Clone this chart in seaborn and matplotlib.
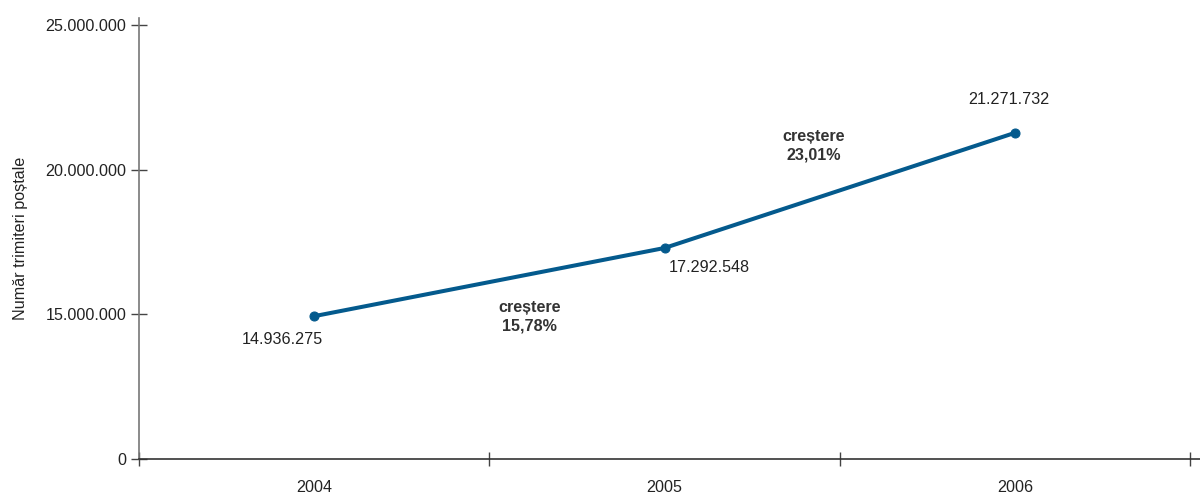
import numpy as np
import pandas as pd
import seaborn as sns
import matplotlib.pyplot as plt
from matplotlib.ticker import FixedLocator

# data
years = ["2004", "2005", "2006"]
trimiteri = [14936275, 17292548, 21271732]
value_labels = ["14.936.275", "17.292.548", "21.271.732"]
growth_labels = ["creștere\n15,78%", "creștere\n23,01%"]
ytick_values = [10000000, 15000000, 20000000, 25000000]
ytick_labels = ["0", "15.000.000", "20.000.000", "25.000.000"]

line_color = "#045a8d"
fs = 11.6

sns.set_theme(style="white")
plt.rcParams['font.family'] = ['Liberation Sans', 'DejaVu Sans']

df = pd.DataFrame({"pos": np.arange(len(years)), "val": trimiteri})

fig = plt.figure(figsize=(12, 4.96), dpi=100)
ax = fig.add_axes([139 / 1200, 37 / 496, 1061 / 1200, 441 / 496])

sns.lineplot(data=df, x="pos", y="val", ax=ax, color=line_color,
             linewidth=2.9, marker="o", markersize=6.5,
             markeredgecolor=line_color, markerfacecolor=line_color)

ax.set_xlim(-0.5, 2.5 + 10 / 351)
ax.set_ylim(10000000, 10000000 + 441 / 144.67 * 5000000)

# x axis: labels at category centres, crossing ticks at boundaries
ax.set_xticks(range(len(years)))
ax.set_xticklabels(years, fontsize=fs, color="#222222")
ax.xaxis.set_minor_locator(FixedLocator([-0.5, 0.5, 1.5, 2.5]))
ax.tick_params(axis="x", which="major", length=0, pad=15)
ax.tick_params(axis="x", which="minor", direction="inout", length=10,
               width=1, color="#444444", bottom=True)

ax.set_yticks(ytick_values)
ax.set_yticklabels(ytick_labels, fontsize=fs, color="#222222")
ax.tick_params(axis="y", direction="inout", length=12, width=1,
               color="#444444", left=True, pad=3)

for side in ["top", "right"]:
    ax.spines[side].set_visible(False)
ax.spines["left"].set_color("#777777")
ax.spines["left"].set_linewidth(1.2)
ax.spines["bottom"].set_color("#333333")
ax.spines["bottom"].set_linewidth(1.2)

ax.set_xlabel("")
ax.set_ylabel("Număr trimiteri poștale", fontsize=fs, color="#222222")
ax.yaxis.set_label_coords(-0.105, 0.5)

# value labels
offsets = [(-23, -17), (32, -14), (-4, 24)]
for i, (lab, off) in enumerate(zip(value_labels, offsets)):
    ax.annotate(lab, (i, trimiteri[i]), xytext=off, textcoords="offset points",
                ha="center", va="center", fontsize=fs, color="#222222")

# growth labels near segment midpoints
g_offsets = [(29, -25), (-19, 32)]
for i, (lab, off) in enumerate(zip(growth_labels, g_offsets)):
    mid_y = (trimiteri[i] + trimiteri[i + 1]) / 2
    ax.annotate(lab, (i + 0.5, mid_y), xytext=off, textcoords="offset points",
                ha="center", va="center", fontsize=fs, fontweight="bold",
                color="#333333", linespacing=1.25)

fig.savefig("out.png", dpi=100)
